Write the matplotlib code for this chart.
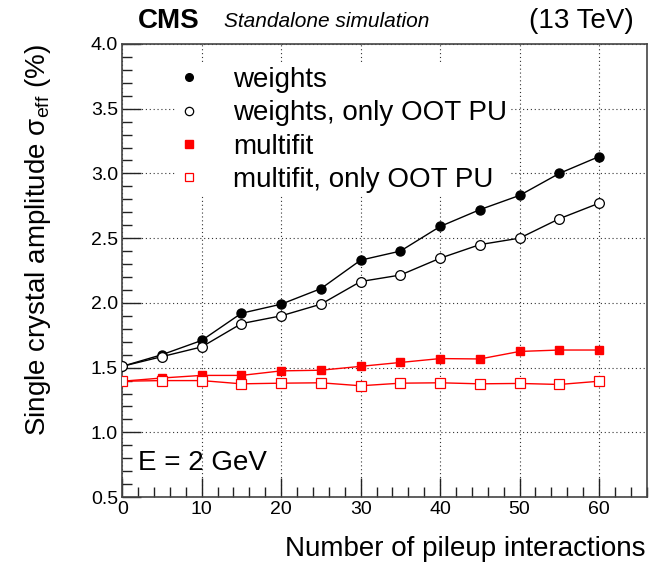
import matplotlib
matplotlib.use("Agg")
import matplotlib.pyplot as plt
from matplotlib.ticker import MultipleLocator

plt.rcParams['font.family'] = ['Liberation Sans', 'DejaVu Sans']
plt.rcParams['mathtext.fontset'] = 'custom'
plt.rcParams['mathtext.rm'] = 'Liberation Sans'
plt.rcParams['mathtext.it'] = 'Liberation Sans:italic'

pileup = [0, 5, 10, 15, 20, 25, 30, 35, 40, 45, 50, 55, 60]
weights = [1.51, 1.60, 1.71, 1.92, 1.99, 2.11, 2.33, 2.40, 2.59, 2.72, 2.83, 3.00, 3.13]
weights_oot = [1.51, 1.585, 1.66, 1.84, 1.90, 1.99, 2.165, 2.215, 2.345, 2.45, 2.50, 2.65, 2.77]
multifit = [1.395, 1.42, 1.44, 1.44, 1.475, 1.48, 1.51, 1.54, 1.57, 1.567, 1.625, 1.636, 1.636]
multifit_oot = [1.395, 1.40, 1.40, 1.375, 1.38, 1.383, 1.36, 1.38, 1.383, 1.375, 1.378, 1.37, 1.395]

labels = ["weights", "weights, only OOT PU", "multifit", "multifit, only OOT PU"]

fig = plt.figure(figsize=(6.5, 5.63), dpi=100)
ax = fig.add_axes([0.188, 0.117, 0.807, 0.805])

h1, = ax.plot(pileup, weights, color='black', lw=1.0, marker='o', ms=6.5,
              mfc='black', mec='black', zorder=5)
h2, = ax.plot(pileup, weights_oot, color='black', lw=1.0, marker='o', ms=7,
              mfc='white', mec='black', mew=0.9, zorder=5)
h3, = ax.plot(pileup, multifit, color='red', lw=1.0, marker='s', ms=6,
              mfc='red', mec='red', zorder=5)
h4, = ax.plot(pileup, multifit_oot, color='red', lw=1.0, marker='s', ms=6.5,
              mfc='white', mec='red', mew=0.9, zorder=5)

ax.set_xlim(0, 66)
ax.set_ylim(0.5, 4.0)
ax.xaxis.set_major_locator(MultipleLocator(10))
ax.xaxis.set_minor_locator(MultipleLocator(2))
ax.yaxis.set_major_locator(MultipleLocator(0.5))
ax.yaxis.set_minor_locator(MultipleLocator(0.1))
ax.yaxis.set_major_formatter(matplotlib.ticker.FormatStrFormatter('%.1f'))
ax.tick_params(which='both', direction='in', top=False, right=False,
               labelsize=14, color='#222222')
ax.tick_params(which='major', length=14, width=1)
ax.tick_params(which='minor', length=7, width=1)
ax.tick_params(axis='x', pad=3)
ax.tick_params(axis='y', pad=3)
for s in ax.spines.values():
    s.set_color('#444444')
    s.set_linewidth(1.2)

ax.grid(True, which='major', color='#333333', linestyle=(0, (1, 2.5)), lw=0.8)
ax.set_axisbelow(True)

ax.set_xlabel("Number of pileup interactions", fontsize=20)
ax.xaxis.set_label_coords(0.998, -0.085)
ax.xaxis.label.set_ha('right')
ax.xaxis.label.set_va('top')
ax.set_ylabel(r"Single crystal amplitude $\mathrm{\sigma}_{\mathrm{eff}}$ (%)",
              fontsize=20)
ax.yaxis.set_label_coords(-0.19, 1.0)
ax.yaxis.label.set_rotation_mode('anchor')
ax.yaxis.label.set_ha('right')
ax.yaxis.label.set_va('top')

leg = ax.legend([h1, h2, h3, h4], labels, loc='upper left',
                bbox_to_anchor=(0.1, 0.955), fontsize=20, frameon=True,
                handlelength=0.8, handletextpad=1.2, borderpad=0.1,
                labelspacing=0.26, borderaxespad=0)
leg.get_frame().set_facecolor('white')
leg.get_frame().set_edgecolor('none')
leg.get_frame().set_alpha(1.0)
for lh in leg.legend_handles:
    lh.set_linestyle('none')
leg.legend_handles[0].set_markersize(5.5)
leg.legend_handles[1].set_markersize(6)
leg.legend_handles[2].set_markersize(5.5)
leg.legend_handles[3].set_markersize(5.5)
leg.set_zorder(10)

ax.text(0.03, 0.075, "E = 2 GeV", transform=ax.transAxes, fontsize=20,
        ha='left', va='center')

fig.text(0.212, 0.962, "CMS", fontsize=20, fontweight='bold', ha='left', va='center')
fig.text(0.345, 0.962, "Standalone simulation", fontsize=15, style='italic',
         ha='left', va='center')
fig.text(0.975, 0.962, "(13 TeV)", fontsize=20, ha='right', va='center')

fig.savefig("out.png", dpi=100)
